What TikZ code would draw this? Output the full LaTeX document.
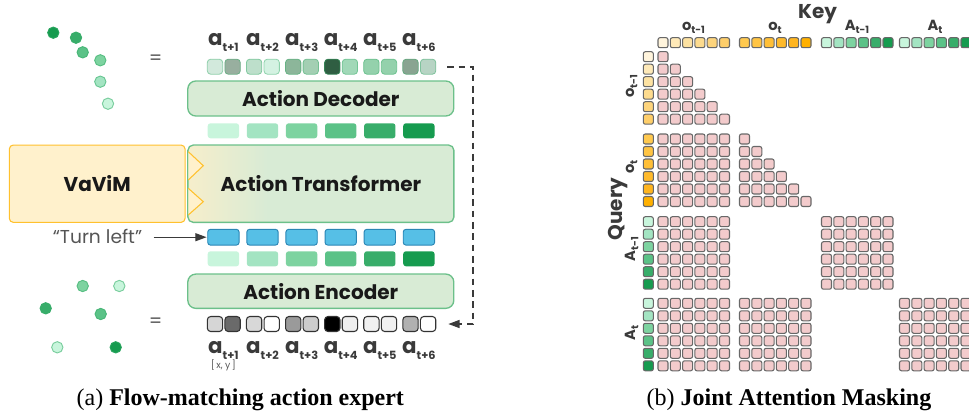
\documentclass[tikz,border=0pt]{standalone}
\usepackage{fontspec}
\setmainfont{Liberation Serif}
\newfontfamily\popp{Poppins}
\usetikzlibrary{arrows.meta}

% colores
\definecolor{gA}{HTML}{C8F5DC}
\definecolor{gB}{HTML}{A3E4C2}
\definecolor{gC}{HTML}{7DD3A0}
\definecolor{gD}{HTML}{5BC287}
\definecolor{gE}{HTML}{38AD6A}
\definecolor{gF}{HTML}{169B4F}
\definecolor{boxgreen}{HTML}{D8EBD5}
\definecolor{boxline}{HTML}{6CC08A}
\definecolor{tfleft}{HTML}{F6EECB}
\definecolor{vavimfill}{HTML}{FFF1CC}
\definecolor{vavimline}{HTML}{FFC12E}
\definecolor{tokblue}{HTML}{56BFE6}
\definecolor{tokline}{HTML}{2A86B5}
\definecolor{maskpink}{HTML}{F3CBCC}
\definecolor{cellline}{HTML}{686868}
\definecolor{labgray}{HTML}{3A3A3A}
\definecolor{turngray}{HTML}{555555}
\definecolor{noiseline}{HTML}{333333}
\definecolor{k00}{HTML}{FFF4DC}
\definecolor{k01}{HTML}{FEE9B8}
\definecolor{k02}{HTML}{FDE2A2}
\definecolor{k03}{HTML}{FDDB8E}
\definecolor{k04}{HTML}{FDD47C}
\definecolor{k05}{HTML}{FECE6A}
\definecolor{k10}{HTML}{FFC94F}
\definecolor{k11}{HTML}{FFC443}
\definecolor{k12}{HTML}{FFBF37}
\definecolor{k13}{HTML}{FFBA2B}
\definecolor{k14}{HTML}{FFB51F}
\definecolor{k15}{HTML}{FFB000}
\colorlet{k20}{gA}\colorlet{k21}{gB}\colorlet{k22}{gC}
\colorlet{k23}{gD}\colorlet{k24}{gE}\colorlet{k25}{gF}
\colorlet{k30}{gA}\colorlet{k31}{gB}\colorlet{k32}{gC}
\colorlet{k33}{gD}\colorlet{k34}{gE}\colorlet{k35}{gF}

\pgfdeclarehorizontalshading{transshade}{100bp}{color(0bp)=(tfleft); color(25bp)=(tfleft); color(40bp)=(boxgreen); color(100bp)=(boxgreen)}

\newcommand{\actl}[1]{{\popp\bfseries\fontsize{16}{16}\selectfont a\raisebox{-4.5pt}{\fontsize{8.5}{8.5}\selectfont #1}}}
\newcommand{\maskl}[2]{{\popp\bfseries\fontsize{11}{11}\selectfont #1\raisebox{-2.5pt}{\fontsize{7.5}{7.5}\selectfont #2}}}

\begin{document}
\begin{tikzpicture}[x=0.75pt, y=-0.75pt,
  blockbox/.style={draw=boxline, fill=boxgreen, line width=1pt, rounded corners=6pt,
    minimum width=199.5pt, inner sep=0pt, text=black!90,
    font=\popp\bfseries\fontsize{15}{15}\selectfont},
  predcell/.style={minimum width=11.5pt, minimum height=11.25pt, inner sep=0pt,
    rounded corners=2.5pt, line width=0.6pt},
  noisecell/.style={predcell, draw=noiseline, line width=0.8pt},
  featbar/.style={minimum width=23.5pt, minimum height=11.25pt, inner sep=0pt,
    rounded corners=2pt},
  cmdbar/.style={featbar, minimum height=11.8pt, fill=tokblue, draw=tokline, line width=0.7pt},
  dot/.style={circle, minimum size=8.5pt, inner sep=0pt, line width=0.7pt},
  maskcell/.style={draw=cellline, line width=0.8pt, rounded corners=1.5pt},
  arr/.style={draw=labgray, line width=1pt, -{Triangle[length=8.5pt,width=6pt]}},
  fbline/.style={arr, line width=1.2pt, dash pattern=on 5pt off 3.5pt}]
  \useasboundingbox (0,0) rectangle (969,412);

  % trayectorias de puntos
  \foreach \n/\x/\y/\c in {1/53.3/32.7/gF, 2/76/37.7/gE, 3/82.7/52.3/gD,
                           4/100.3/60.3/gC, 5/100.3/81.7/gB, 6/108/103.7/gA} {
    \node[dot, fill=\c, draw=\c!45!gE] (pt\n) at (\x,\y) {};
  }
  \foreach \n/\x/\y/\c in {1/82.7/286/gC, 2/119.3/286/gA, 3/45.7/308.3/gE,
                           4/100.7/314/gD, 5/57.3/347.3/gA, 6/115.7/347.3/gF} {
    \node[dot, fill=\c, draw=\c!45!gE] (pn\n) at (\x,\y) {};
  }
  \node[text=turngray, font=\popp\fontsize{14}{14}\selectfont] (eqtop) at (155.7,60) {=};
  \node[text=turngray, font=\popp\fontsize{14}{14}\selectfont] (eqbot) at (155.7,322.5) {=};

  % acciones predichas
  \foreach \i/\ca/\cb in {0/D2E9DC/98AF9F, 1/BDDFCB/D4F2E2, 2/8CB69A/A3CFB3,
                          3/2F5E42/A1D8B8, 4/94D1AC/94D1AC, 5/89A491/B7D4C4} {
    \definecolor{ca}{HTML}{\ca}\definecolor{cb}{HTML}{\cb}
    \node[predcell, fill=ca, draw=ca!55!gE] (pa\i) at (215+39.1*\i,66.7) {};
    \node[predcell, fill=cb, draw=cb!55!gE] (pb\i) at (232.6+39.1*\i,66.7) {};
  }
  % ruido de entrada
  \foreach \i/\ca/\cb in {0/D6D6D6/6A6A6A, 1/D8D8D8/FFFFFF, 2/9A9A9A/CCCCCC,
                          3/000000/EEEEEE, 4/F1F1F1/F1F1F1, 5/B1B1B1/FFFFFF} {
    \definecolor{ca}{HTML}{\ca}\definecolor{cb}{HTML}{\cb}
    \node[noisecell, fill=ca] (na\i) at (215+39.1*\i,324) {};
    \node[noisecell, fill=cb] (nb\i) at (232.6+39.1*\i,324) {};
  }
  % etiquetas a_{t+i}
  \foreach \i/\n in {0/1,1/2,2/3,3/4,4/5,5/6} {
    \node[anchor=base, text=labgray, inner sep=0pt] (lu\i) at (223.4+39.1*\i,45) {\actl{t+\n}};
    \node[anchor=base, text=labgray, inner sep=0pt] (ld\i) at (223.4+39.1*\i,353.3) {\actl{t+\n}};
  }
  \node[text=turngray, font=\popp\fontsize{7}{7}\selectfont] (xy) at (223.4,365) {[\,x, y\,]};

  % barras de rasgos y tokens de texto
  \foreach \i/\c in {0/gA,1/gB,2/gC,3/gD,4/gE,5/gF} {
    \node[featbar, fill=\c] (fu\i) at (223.4+39.1*\i,130.8) {};
    \node[featbar, fill=\c] (fd\i) at (223.4+39.1*\i,258.8) {};
    \node[cmdbar] (bl\i) at (223.4+39.1*\i,237.2) {};
  }

  % bloques
  \node[blockbox, minimum height=26.25pt] (dec) at (320.8,98.5) {Action Decoder};
  \node[blockbox, minimum height=25.7pt] (enc) at (320.8,291.2) {Action Encoder};
  \node[blockbox, shade, shading=transshade, minimum height=58pt, rounded corners=4pt] (trans) at (320.9,183.7) {Action Transformer};
  \node[draw=vavimline, fill=vavimfill, line width=0.8pt, rounded corners=3pt,
        minimum width=131.8pt, minimum height=58pt, inner sep=0pt, text=black!90,
        font=\popp\bfseries\fontsize{15}{15}\selectfont] (vavim) at (97.2,183.7) {VaViM};
  \filldraw[fill=vavimfill, draw=vavimline, line width=0.8pt] (188.3,151.7) -- (203.3,165.7) -- (188.3,180);
  \filldraw[fill=vavimfill, draw=vavimline, line width=0.8pt] (188.3,188.3) -- (203.3,201.7) -- (188.3,215);

  % conectores
  \node[anchor=base, text=turngray, inner sep=0pt, font=\popp\fontsize{14}{14}\selectfont] (turn) at (97.5,243.3) {“Turn left”};
  \draw[arr, shorten <=8.5pt, shorten >=0.5pt] (turn.east |- bl0.west) -- (bl0.west);
  \draw[fbline] ([xshift=8.25pt]pb5.east) -| ([xshift=27.7pt]nb5.east) -- ([xshift=9pt]nb5.east);

  % mascara: key y query
  \node[anchor=base, text=labgray, font=\popp\bfseries\fontsize{15}{15}\selectfont] (key) at (817.5,18.3) {Key};
  \node[anchor=base, text=labgray, inner sep=0pt] (kot1) at (693.5,30.5) {\maskl{o}{t-1}};
  \node[anchor=base, text=labgray, inner sep=0pt] (kot) at (775,30.5) {\maskl{o}{t}};
  \node[anchor=base, text=labgray, inner sep=0pt] (kat1) at (857,30.5) {\maskl{A}{t-1}};
  \node[anchor=base, text=labgray, inner sep=0pt] (kat) at (935,30.5) {\maskl{A}{t}};
  \node[anchor=base, rotate=90, text=labgray, inner sep=0pt, font=\popp\bfseries\fontsize{15}{15}\selectfont] (query) at (622.5,209) {Query};
  \node[anchor=base, rotate=90, text=labgray, inner sep=0pt] (qot1) at (634,86.3) {\maskl{o}{t-1}};
  \node[anchor=base, rotate=90, text=labgray, inner sep=0pt] (qot) at (634,167) {\maskl{o}{t}};
  \node[anchor=base, rotate=90, text=labgray, inner sep=0pt] (qat1) at (635,249) {\maskl{A}{t-1}};
  \node[anchor=base, rotate=90, text=labgray, inner sep=0pt] (qat) at (635,333) {\maskl{A}{t}};

  \foreach \g/\gx in {0/658,1/739.5,2/821.5,3/899.5} {
    \foreach \c in {0,...,5}
      \filldraw[maskcell, fill=k\g\c] (\gx+12.3*\c,37.7) rectangle ++(10,10);
  }
  \foreach \g/\by in {0/51.7,1/134,2/216.7,3/298.3} {
    \foreach \r in {0,...,5}
      \filldraw[maskcell, fill=k\g\r] (643.3,\by+12.5*\r) rectangle ++(10,10);
  }
  % o_{t-1}, causal
  \foreach \r in {0,...,5} {
    \foreach \c in {0,...,\r}
      \filldraw[maskcell, fill=maskpink] (658+12.3*\c,51.7+12.5*\r) rectangle ++(10,10);
  }
  % o_t
  \foreach \r in {0,...,5} {
    \foreach \c in {0,...,5}
      \filldraw[maskcell, fill=maskpink] (658+12.3*\c,134+12.5*\r) rectangle ++(10,10);
    \foreach \c in {0,...,\r}
      \filldraw[maskcell, fill=maskpink] (739.5+12.3*\c,134+12.5*\r) rectangle ++(10,10);
  }
  % A_{t-1} y A_t
  \foreach \gx in {658,821.5} {
    \foreach \r in {0,...,5}
      \foreach \c in {0,...,5}
        \filldraw[maskcell, fill=maskpink] (\gx+12.3*\c,216.7+12.5*\r) rectangle ++(10,10);
  }
  \foreach \gx in {658,739.5,899.5} {
    \foreach \r in {0,...,5}
      \foreach \c in {0,...,5}
        \filldraw[maskcell, fill=maskpink] (\gx+12.3*\c,298.3+12.5*\r) rectangle ++(10,10);
  }

  % pies
  \node[anchor=base, font=\fontsize{18}{21}\selectfont] (capa) at (240.3,405) {(a) \textbf{Flow-matching action expert}};
  \node[anchor=base, font=\fontsize{18}{21}\selectfont] (capb) at (789,405) {(b) \textbf{Joint Attention Masking}};
\end{tikzpicture}
\end{document}
